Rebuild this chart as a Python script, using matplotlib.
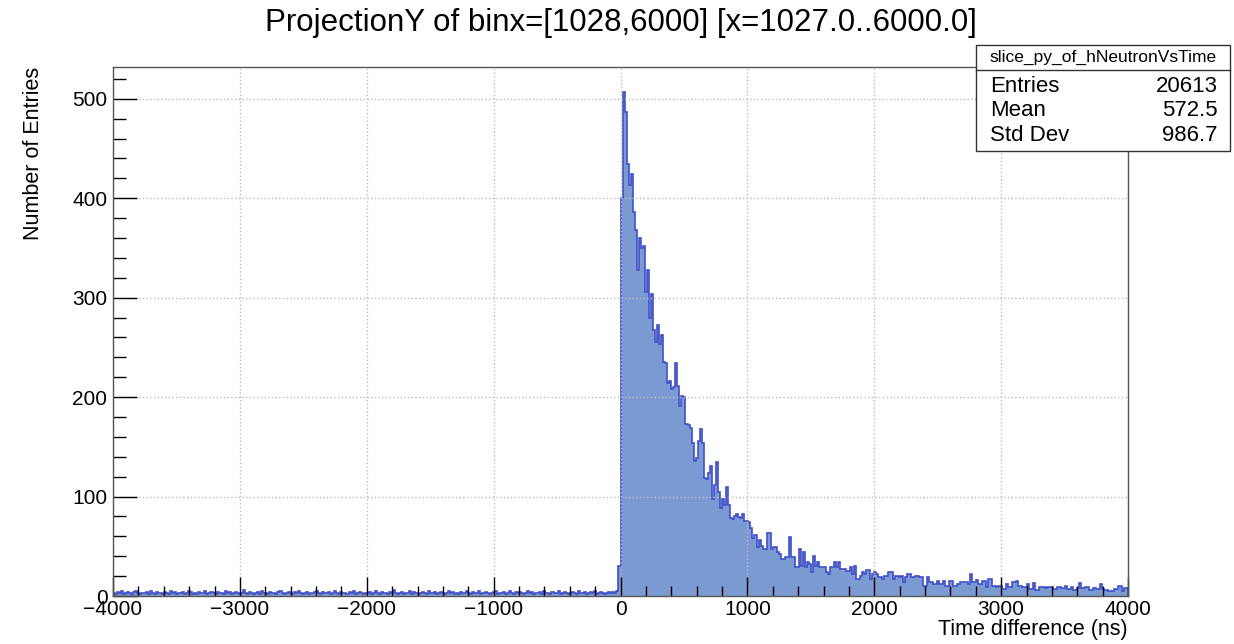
import numpy as np
import matplotlib.pyplot as plt
from matplotlib.patches import Rectangle
from matplotlib.lines import Line2D
from matplotlib.ticker import MultipleLocator

# histogram binning : 500 bins of 16 ns between -4000 and 4000
x_min, x_max, n_bins = -4000, 4000, 500

# counts for t < 0 (flat background + rising edge just before 0)
counts_neg = [
    3, 2, 4, 3, 5, 2, 3, 4, 3, 2, 4, 5, 3, 2, 3, 3, 4, 2, 5, 3, 2, 4, 3, 3, 2,
    4, 3, 2, 5, 3, 4, 2, 3, 3, 4, 2, 3, 5, 4, 2, 3, 2, 4, 3, 3, 5, 2, 3, 4, 3,
    2, 4, 3, 3, 2, 5, 3, 4, 2, 3, 4, 3, 2, 3, 6, 3, 2, 4, 3, 2, 3, 4, 2, 5, 3,
    3, 2, 4, 3, 3, 2, 4, 5, 3, 2, 3, 4, 3, 2, 4, 3, 5, 3, 2, 3, 4, 2, 3, 3, 4,
    5, 3, 2, 4, 3, 3, 4, 2, 3, 5, 3, 2, 4, 3, 3, 2, 4, 3, 5, 2, 3, 4, 3, 2, 3,
    3, 4, 2, 3, 5, 3, 2, 4, 3, 3, 2, 4, 3, 6, 3, 2, 3, 4, 2, 3, 3, 5, 2, 4, 3,
    2, 3, 4, 3, 2, 5, 3, 3, 4, 2, 3, 4, 3, 2, 3, 5, 3, 4, 2, 3, 2, 4, 3, 3, 5,
    3, 2, 4, 3, 3, 5, 2, 3, 4, 3, 2, 3, 4, 5, 2, 3, 3, 4, 2, 3, 5, 3, 2, 4, 3,
    4, 3, 2, 3, 5, 3, 4, 2, 3, 3, 4, 2, 5, 3, 3, 2, 4, 3, 3, 5, 2, 3, 4, 3, 2,
    3, 4, 3, 2, 5, 3, 3, 4, 2, 3, 4, 3, 5, 2, 3, 4, 3, 2, 3, 4, 3, 4, 3, 5, 30,
]

# counts for t >= 0 (peak + decay tail)
counts_pos = [
    400, 507, 487, 434, 413, 424, 386, 368, 328, 360, 350, 352, 306, 328, 280, 304, 268, 255, 273, 253, 262, 235, 234, 214, 216,
    208, 210, 234, 211, 191, 201, 200, 173, 172, 169, 154, 136, 139, 156, 168, 154, 119, 118, 124, 131, 98, 112, 135, 105, 89,
    98, 92, 110, 92, 78, 77, 80, 82, 79, 78, 82, 75, 75, 74, 68, 58, 61, 49, 56, 50, 47, 47, 63, 63, 47,
    49, 49, 44, 42, 37, 37, 39, 39, 59, 39, 39, 29, 29, 47, 30, 44, 29, 34, 32, 24, 40, 30, 34, 29, 29,
    29, 24, 22, 29, 29, 34, 29, 34, 27, 27, 27, 25, 25, 29, 22, 30, 17, 17, 20, 24, 22, 26, 26, 17, 22,
    24, 22, 19, 19, 17, 20, 20, 24, 24, 17, 20, 20, 19, 20, 14, 19, 22, 22, 19, 19, 20, 20, 19, 19, 10,
    10, 19, 14, 14, 12, 12, 15, 12, 12, 15, 10, 10, 15, 15, 10, 10, 12, 14, 14, 14, 14, 12, 22, 14, 14,
    16, 12, 12, 15, 15, 9, 17, 17, 10, 10, 9, 10, 10, 7, 7, 12, 9, 9, 14, 14, 15, 10, 10, 9, 9,
    12, 7, 7, 13, 6, 6, 9, 9, 9, 8, 9, 9, 9, 7, 7, 9, 9, 8, 8, 10, 7, 7, 9, 6, 6,
    8, 13, 8, 8, 9, 9, 6, 6, 8, 7, 7, 12, 7, 6, 6, 5, 5, 5, 7, 7, 10, 10, 5, 8, 8,
]

title = "ProjectionY of binx=[1028,6000] [x=1027.0..6000.0]"
stat_name = "slice_py_of_hNeutronVsTime"
stat_labels = ["Entries", "Mean", "Std Dev"]
stat_values = ["20613", "572.5", "986.7"]

counts = np.array(counts_neg + counts_pos)
edges = np.linspace(x_min, x_max, n_bins + 1)

plt.rcParams["font.family"] = ["Liberation Sans", "DejaVu Sans"]

fig = plt.figure(figsize=(12.34, 6.44), dpi=100)
ax = fig.add_axes([0.0916, 0.0745, 0.8225, 0.8215])

ax.stairs(counts, edges, fill=True, color="#7b9ad2", linewidth=0)
ax.stairs(counts, edges, color="#4050c8", linewidth=1.2)

ax.set_xlim(x_min, x_max)
ax.set_ylim(0, 532)

ax.xaxis.set_major_locator(MultipleLocator(1000))
ax.xaxis.set_minor_locator(MultipleLocator(200))
ax.yaxis.set_major_locator(MultipleLocator(100))
ax.yaxis.set_minor_locator(MultipleLocator(20))
ax.tick_params(axis="x", which="major", direction="in", length=14, width=1, labelsize=15, pad=3)
ax.tick_params(axis="x", which="minor", direction="in", length=7, width=1)
ax.tick_params(axis="y", which="major", direction="in", length=17, width=1, labelsize=15, pad=4)
ax.tick_params(axis="y", which="minor", direction="in", length=9, width=1)
ax.grid(True, which="major", color="#bdbdbd", linestyle=":", linewidth=1)
for s in ax.spines.values():
    s.set_color("#555555")
    s.set_linewidth(1)

fig.text(0.503, 0.964, title, ha="center", va="center", fontsize=22.5)
fig.text(0.914, 0.006, "Time difference (ns)", ha="right", va="bottom", fontsize=15.5)
fig.text(0.027, 0.896, "Number of Entries", ha="center", va="top", rotation=90, fontsize=15.5)

# stats box
bx0, bx1, by0, by1, ydiv = 0.791, 0.9968, 0.7655, 0.930, 0.891
fig.patches.append(Rectangle((bx0, by0), bx1 - bx0, by1 - by0, transform=fig.transFigure,
                             facecolor="white", edgecolor="#333333", linewidth=1, zorder=5))
fig.lines.append(Line2D([bx0, bx1], [ydiv, ydiv], transform=fig.transFigure,
                        color="#333333", linewidth=1, zorder=6))
fig.text((bx0 + bx1) / 2, 0.9115, stat_name, ha="center", va="center", fontsize=12.5, zorder=7)
for i, (lab, val) in enumerate(zip(stat_labels, stat_values)):
    yy = 0.866 - i * 0.038
    fig.text(0.802, yy, lab, ha="left", va="center", fontsize=16, zorder=7)
    fig.text(0.987, yy, val, ha="right", va="center", fontsize=16, zorder=7)

fig.savefig("out.png", dpi=100)
